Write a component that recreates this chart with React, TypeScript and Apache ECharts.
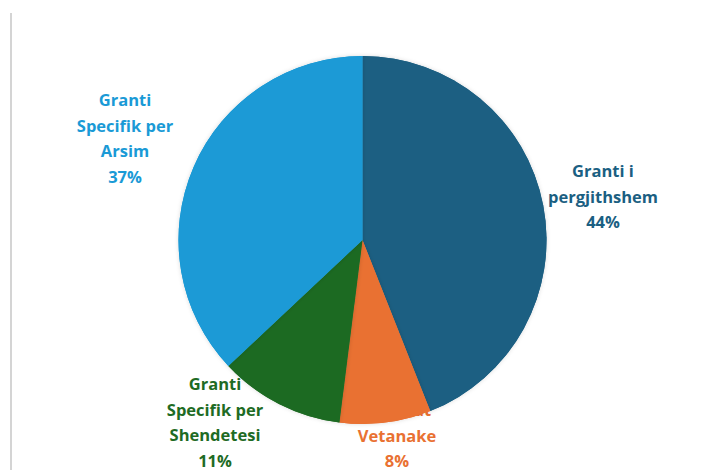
import React, { useEffect, useRef } from "react";
import * as echarts from "echarts";

const categories = [
  "Granti i\npergjithshem",
  "Te hyrat\nVetanake",
  "Granti\nSpecifik per\nShendetesi",
  "Granti\nSpecifik per\nArsim",
];
const values = [44, 8, 11, 37];
const colors = ["#1b5f82", "#e97132", "#1e6b24", "#1a9ad6"];
const labelPositions = [
  [603, 196],
  [397, 435],
  [215, 422],
  [125, 138],
];

export default function App() {
  const ref = useRef<HTMLDivElement>(null);
  useEffect(() => {
    if (!ref.current) return;
    const chart = echarts.init(ref.current, undefined, { renderer: "svg" });
    const data = categories.map((c, i) => ({
      name: c,
      value: values[i],
      itemStyle: { color: colors[i] },
      label: { color: colors[i] },
    }));
    chart.setOption({
      animation: false,
      backgroundColor: "#ffffff",
      graphic: [
        {
          type: "line",
          shape: { x1: 11, y1: 13, x2: 11, y2: 470 },
          style: { stroke: "#d4d4d4", lineWidth: 2 },
        },
      ],
      series: [
        {
          type: "pie",
          z: 1,
          center: [362.5, 240],
          radius: 184,
          startAngle: 90,
          clockwise: true,
          silent: true,
          label: {
            show: true,
            position: "outside",
            fontFamily: "Open Sans",
            fontWeight: "bold",
            fontSize: 16.5,
            lineHeight: 25.5,
            align: "center",
            overflow: "none",
            width: 200,
            formatter: (p: any) => `${p.name}\n${p.value}%`,
          },
          labelLine: { show: false },
          labelLayout: (params: any) => {
            const pos = labelPositions[params.dataIndex];
            return { x: pos[0], y: pos[1], align: "center", verticalAlign: "middle" };
          },
          itemStyle: { borderWidth: 0 },
          data,
        },
        {
          type: "pie",
          z: 5,
          center: [362.5, 240],
          radius: 184,
          startAngle: 90,
          clockwise: true,
          label: { show: false },
          labelLine: { show: false },
          itemStyle: { borderWidth: 0, shadowBlur: 4, shadowColor: "rgba(0,0,0,0.15)" },
          data: categories.map((c, i) => ({
            name: c,
            value: values[i],
            itemStyle: { color: colors[i] },
          })),
        },
      ],
    });
    return () => chart.dispose();
  }, []);
  return (
    <div
      ref={ref}
      style={{ position: "fixed", left: 0, top: 0, width: 705, height: 470 }}
    />
  );
}
